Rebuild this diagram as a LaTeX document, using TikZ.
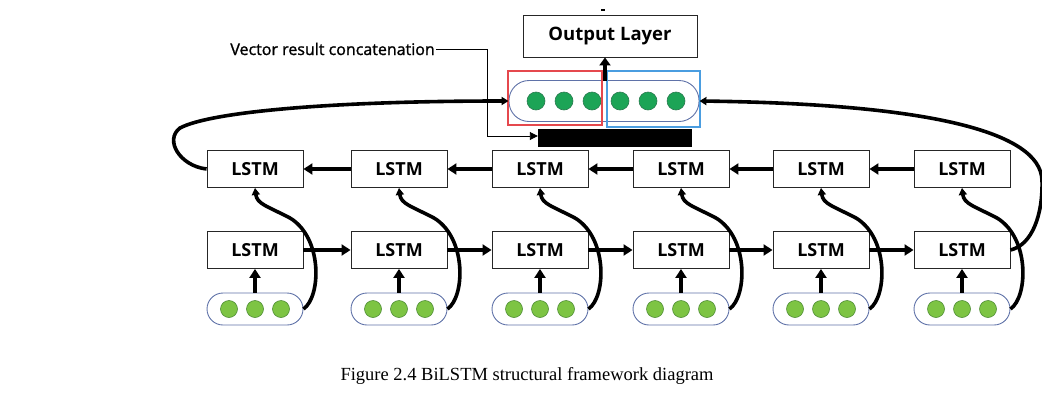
\documentclass[tikz,border=0pt]{standalone}
\usepackage{fontspec}
\setmainfont{Liberation Serif}
\newfontfamily\osans{Open Sans}
\newfontfamily\osemi[FakeBold=1.3]{Open Sans}
\usetikzlibrary{arrows.meta,calc}
\definecolor{pillblue}{HTML}{5F72A8}
\definecolor{lgreen}{HTML}{7DC443}
\definecolor{lgreenline}{HTML}{4E8C35}
\definecolor{dgreen}{HTML}{1CA456}
\definecolor{dgreenline}{HTML}{2B7A50}
\definecolor{cred}{HTML}{E5484D}
\definecolor{cblue}{HTML}{4A9DE0}
\tikzset{
  lstm/.style={draw=black!85, line width=0.9pt, minimum width=96pt, minimum height=37pt, inner sep=0pt,
    font=\osans\bfseries\fontsize{18}{18}\selectfont},
  inpill/.style={draw=pillblue, line width=0.9pt, rounded corners=16pt, minimum width=96pt, minimum height=32pt, inner sep=0pt},
  catpill/.style={draw=pillblue, line width=0.9pt, rounded corners=20pt, minimum width=190pt, minimum height=41pt, inner sep=0pt},
  ldot/.style={circle, fill=lgreen, draw=lgreenline, line width=0.6pt, minimum size=17pt, inner sep=0pt},
  ddot/.style={circle, fill=dgreen, draw=dgreenline, line width=0.6pt, minimum size=18pt, inner sep=0pt},
  arr/.style={line width=3.8pt, -{Triangle[length=9pt,width=11pt]}},
  curve/.style={line width=3.6pt, -{Triangle[length=7pt,width=8pt]}},
  conn/.style={line width=0.9pt, -{Triangle[length=8pt,width=8pt]}},
}
\begin{document}
\begin{tikzpicture}[x=1pt,y=-1pt]
\useasboundingbox (0,0) rectangle (1042,394);
% columns
\foreach \i/\cx in {1/255,2/399,3/540,4/681,5/821,6/962}{
  \node[lstm] (t\i) at (\cx,169) {LSTM};
  \node[lstm] (b\i) at (\cx,250) {LSTM};
  \node[inpill] (p\i) at (\cx,309) {};
  \node[ldot] (p\i a) at (\cx-26,309) {};
  \node[ldot] (p\i b) at (\cx,309) {};
  \node[ldot] (p\i c) at (\cx+26,309) {};
  \draw[arr] (p\i.north) -- (b\i.south);
  \draw[curve] (p\i.east) .. controls (\cx+66,297) and (\cx+68,238) .. (\cx+35,218)
     .. controls (\cx+12,206) and (\cx+2,204) .. (t\i.south);
}
\foreach \i/\j in {1/2,2/3,3/4,4/5,5/6}{
  \draw[arr] (b\i.east) -- (b\j.west);
  \draw[arr] (t\j.west) -- (t\i.east);
}
% concatenation pill
\node[catpill] (cat) at (604,101) {};
\foreach \k/\x in {1/536,2/564,3/592,4/620,5/648,6/676}{
  \node[ddot] (c\k) at (\x,101) {};
}
\draw[cred, line width=1.2pt] (508,71) rectangle (602,125);
\draw[cblue, line width=1.2pt] (607,71) rectangle (700,127);
% output layer
\node[draw=black!85, line width=0.9pt, minimum width=174pt, minimum height=42pt, inner sep=0pt,
  font=\osans\bfseries\fontsize{18.5}{18.5}\selectfont] (out) at (610,36) {Output Layer};
\fill (601,9) rectangle (605,11);
\coordinate (ua) at (605,81);
\draw[line width=3.4pt, -{Triangle[length=8pt,width=11pt]}] (ua) -- (ua |- out.south);
% black bar
\node[fill=black, minimum width=154pt, minimum height=18pt, inner sep=0pt] (bar) at (615,138) {};
% label
\node[anchor=base east, inner sep=1pt, font=\osemi\fontsize{16}{16}\selectfont] (vec) at (436,55) {Vector result concatenation};
\draw[conn] (vec.east) -| ([xshift=-50pt,yshift=2pt]bar.west) -- ([yshift=2pt]bar.west);
% big curves
\draw[curve] (t1.west) .. controls (180,166) and (164,140) .. (180,128)
   .. controls (210,112) and (330,101) .. (cat.west);
\draw[curve] (b6.east) .. controls (1032,245) and (1043,215) .. (1042,180)
   .. controls (1040,132) and (930,104) .. (cat.east);
% caption
\node[font=\fontsize{18.5}{18.5}\selectfont] (cap) at (527,376) {Figure 2.4 BiLSTM structural framework diagram};
\end{tikzpicture}
\end{document}
